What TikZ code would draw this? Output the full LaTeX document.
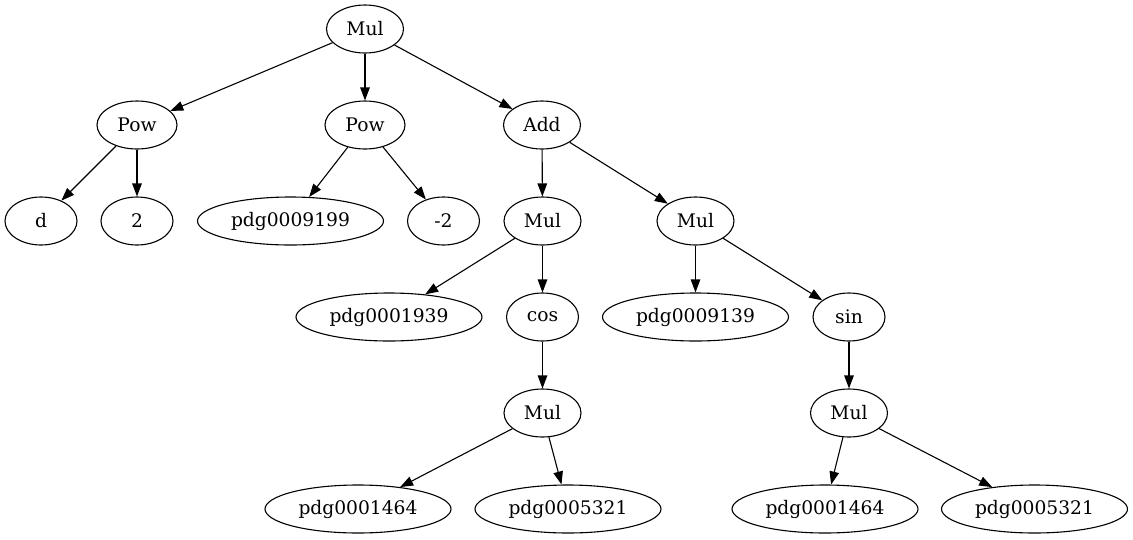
\documentclass[tikz,border=0pt]{standalone}
\usepackage{fontspec}
\setmainfont{DejaVu Serif}
\usetikzlibrary{shapes.geometric,arrows.meta}

\newcommand{\treefont}{\fontsize{18.67}{22}\selectfont}

\tikzset{
  exprnode/.style={
    draw,
    ellipse,
    line width=1.1pt,
    inner sep=0pt,
    minimum height=48pt,
    font=\treefont
  },
  opnode/.style={exprnode, minimum width=77pt},
  leafnode/.style={exprnode, minimum width=72pt},
  pdgnode/.style={exprnode, minimum width=186pt},
  treearrow/.style={line width=1.1pt, -{Triangle[length=13pt,width=9.5pt]}}
}

\begin{document}
\begin{tikzpicture}[x=1pt, y=-1pt]
\useasboundingbox (0,0) rectangle (1133,539);

% rank 0
\node[opnode] (root) at (365,29) {Mul};

% rank 1
\node[opnode, minimum width=80pt] (powL) at (137,125) {Pow};
\node[opnode, minimum width=80pt] (powM) at (365,125) {Pow};
\node[opnode] (add) at (542,125) {Add};

% rank 2
\node[leafnode] (d) at (41,221) {d};
\node[leafnode] (two) at (137,221) {2};
\node[pdgnode] (pdgP) at (290.5,221) {pdg0009199};
\node[leafnode] (negtwo) at (443.5,221) {-2};
\node[opnode] (mulA) at (542.5,221) {Mul};
\node[opnode] (mulB) at (695.5,221) {Mul};

% rank 3
\node[pdgnode] (pdgQ) at (389,317) {pdg0001939};
\node[leafnode] (cos) at (542.5,317) {cos};
\node[pdgnode] (pdgR) at (695.5,317) {pdg0009139};
\node[leafnode] (sin) at (849,317) {sin};

% rank 4
\node[opnode] (mulC) at (542.5,413) {Mul};
\node[opnode] (mulD) at (849,413) {Mul};

% rank 5
\node[pdgnode] (pdgS) at (358,509) {pdg0001464};
\node[pdgnode] (pdgT) at (568,509) {pdg0005321};
\node[pdgnode] (pdgU) at (825,509) {pdg0001464};
\node[pdgnode] (pdgV) at (1034.5,509) {pdg0005321};

\foreach \from/\to in {root/powL, root/powM, root/add,
    powL/d, powL/two, powM/pdgP, powM/negtwo,
    add/mulA, add/mulB, mulA/pdgQ, mulA/cos, mulB/pdgR, mulB/sin,
    cos/mulC, sin/mulD, mulC/pdgS, mulC/pdgT, mulD/pdgU, mulD/pdgV}
  \draw[treearrow] (\from) -- (\to);
\end{tikzpicture}
\end{document}
